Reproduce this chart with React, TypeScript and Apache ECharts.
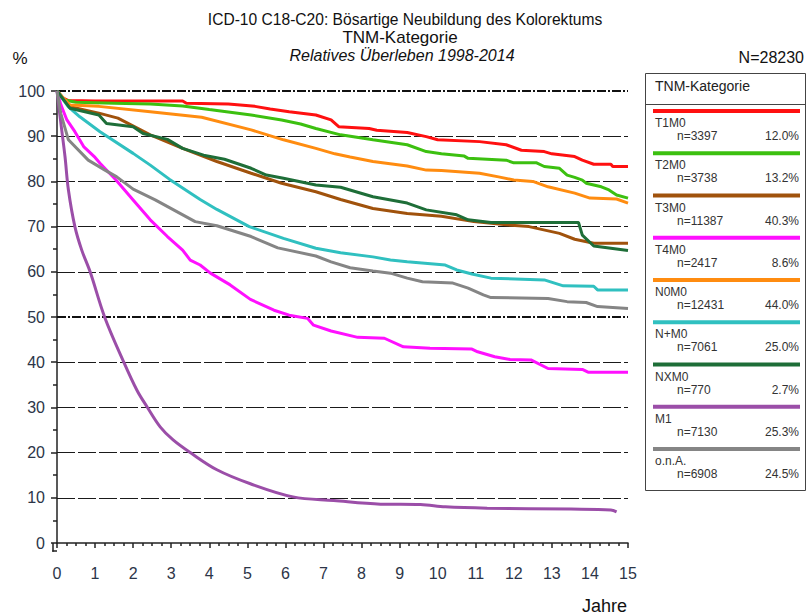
import React, { useEffect, useRef } from 'react';
import * as echarts from 'echarts';

const FONT = '"Liberation Sans", Arial, Helvetica, sans-serif';

// Relative survival (%) by years since diagnosis, one [year, percent] list per TNM group
const t1m0: number[][] = [
  [0, 100], [0.15, 98.5], [0.3, 97.9], [1, 97.8], [2, 97.8], [3.3, 97.8], [3.4, 97.3], [4.5, 97.1],
  [5.2, 96.6], [5.6, 96.0], [6.1, 95.4], [6.8, 94.7], [7.2, 93.6], [7.4, 92.1], [8.2, 91.7], [8.4, 91.3],
  [9.2, 90.8], [9.7, 89.9], [10, 89.2], [11.1, 88.8], [11.8, 88.1], [12.2, 86.9], [12.8, 86.6], [13, 86.1],
  [13.6, 85.5], [13.8, 84.7], [14.1, 83.8], [14.55, 83.8], [14.6, 83.3], [15, 83.3],
];
const t2m0: number[][] = [
  [0, 100], [0.2, 98], [0.5, 97.5], [1.5, 97.3], [2.45, 97.1], [3.3, 96.7], [4, 95.9], [5.1, 94.7],
  [5.9, 93.6], [6.4, 92.7], [6.8, 91.7], [7.45, 90.3], [8.3, 89.2], [9.2, 88.1], [9.7, 86.6], [10.1, 86.1],
  [10.7, 85.6], [10.8, 85.1], [11.8, 84.7], [12, 84.1], [12.6, 84.1], [12.8, 83.3], [13.2, 82.9], [13.4, 81.4],
  [13.6, 80.9], [13.8, 80.3], [13.9, 79.6], [14.3, 78.8], [14.5, 78.1], [14.7, 77.0], [15, 76.3],
];
const t3m0: number[][] = [
  [0, 100], [0.34, 96.5], [1.1, 95.1], [1.6, 94.0], [2.45, 90.3], [3.3, 87.3], [4.2, 84.4], [5.1, 81.8],
  [5.9, 79.6], [6.8, 77.7], [7.45, 76.0], [8.3, 74.0], [9.2, 72.9], [10.1, 72.3], [10.95, 71.1], [11.8, 70.4],
  [12.4, 70.0], [13.2, 68.5], [13.6, 67.2], [14.1, 66.3], [15, 66.3],
];
const t4m0: number[][] = [
  [0, 100], [0.1, 97], [0.26, 93.6], [0.47, 91.0], [0.7, 87.7], [1.0, 85.3], [1.13, 84.0], [1.55, 80.3],
  [2, 75.9], [2.45, 71.5], [2.9, 67.8], [3.3, 64.8], [3.5, 62.6], [3.76, 61.5], [4.03, 59.7], [4.55, 57.1],
  [5.08, 53.9], [5.7, 51.5], [6.1, 50.4], [6.58, 49.7], [6.74, 48.2], [7.2, 46.9], [7.9, 45.5], [8.6, 45.3],
  [9.1, 43.4], [9.8, 43.1], [10.9, 42.9], [11.05, 42.3], [11.5, 41.2], [11.9, 40.6], [12.45, 40.5],
  [12.9, 38.6], [13.8, 38.4], [13.95, 37.8], [15, 37.8],
];
const n0m0: number[][] = [
  [0, 100], [0.34, 96.9], [1.1, 96.6], [2.45, 95.4], [3.8, 94.2], [5.1, 91.4], [5.95, 89.2], [6.8, 87.3],
  [7.3, 86.1], [7.7, 85.4], [8.3, 84.4], [9.2, 83.4], [9.7, 82.5], [10.1, 82.4], [11.1, 81.8], [11.6, 81.0],
  [12, 80.3], [12.5, 80.0], [12.9, 78.8], [13.6, 77.4], [14, 76.3], [14.7, 76.1], [15, 75.2],
];
const nplusm0: number[][] = [
  [0, 100], [0.3, 96.5], [0.6, 94.3], [1.13, 91.0], [2, 86.2], [2.45, 83.6], [2.95, 80.5], [3.76, 76.0],
  [4.2, 73.8], [5.05, 70.0], [5.95, 67.4], [6.8, 65.2], [7.45, 64.2], [8.3, 63.3], [8.76, 62.6], [9.2, 62.2],
  [10.2, 61.5], [10.5, 60.4], [10.9, 59.5], [11.4, 58.6], [12.8, 58.2], [13.3, 56.9], [14.1, 56.8],
  [14.2, 56.0], [15, 56.0],
];
const nxm0: number[][] = [
  [0, 100], [0.34, 96.2], [1.1, 94.7], [1.3, 92.8], [2, 92.1], [2.26, 90.6], [2.9, 89.3], [3.3, 87.3],
  [3.85, 85.8], [4.4, 84.9], [5.1, 82.9], [5.5, 81.4], [5.95, 80.7], [6.8, 79.2], [7.45, 78.7], [8.3, 76.6],
  [9.2, 75.2], [9.7, 73.7], [10.5, 72.6], [10.8, 71.5], [11.4, 70.9], [13.7, 70.9], [13.8, 68.1],
  [14.1, 65.7], [15, 64.7],
];
const m1: number[][] = [
  [0, 100], [0.1, 93], [0.21, 85.5], [0.3, 78.1], [0.47, 70.0], [0.65, 64.8], [0.87, 60.0], [1.26, 49.8],
  [1.75, 40.1], [2.1, 33.8], [2.36, 30.2], [2.71, 25.7], [3.05, 22.8], [3.5, 20.0], [4.2, 16.2],
  [5.08, 13.1], [6.2, 10.2], [7.27, 9.4], [8.5, 8.6], [9.55, 8.5], [10.2, 8.0], [11.3, 7.7], [13.5, 7.5],
  [14.55, 7.3], [14.7, 6.9],
];
const ona: number[][] = [
  [0, 100], [0.1, 95], [0.3, 89.2], [0.82, 84.7], [1.26, 82.5], [1.57, 81.0], [2, 78.3], [2.58, 75.9],
  [3.63, 71.1], [4.2, 70.2], [5.1, 67.8], [5.8, 65.3], [6.8, 63.5], [7.2, 62.2], [7.7, 60.9], [8.3, 60.2],
  [8.76, 59.7], [9.2, 58.6], [9.6, 57.8], [10.4, 57.5], [10.8, 56.4], [11.2, 54.9], [11.4, 54.3],
  [12.9, 54.1], [13.4, 53.4], [13.9, 53.2], [14.2, 52.3], [15, 51.9],
];

const categories = ['T1M0', 'T2M0', 'T3M0', 'T4M0', 'N0M0', 'N+M0', 'NXM0', 'M1', 'o.n.A.'];
const counts = [3397, 3738, 11387, 2417, 12431, 7061, 770, 7130, 6908];
const shares = ['12.0%', '13.2%', '40.3%', '8.6%', '44.0%', '25.0%', '2.7%', '25.3%', '24.5%'];
const curves = [t1m0, t2m0, t3m0, t4m0, n0m0, nplusm0, nxm0, m1, ona];
const colors = ['#ff1010', '#3cc010', '#a0520c', '#ff10ff', '#ff8c10', '#30c0c0', '#1e6e38', '#9b4ea8', '#858585'];
const smoothCurve = [false, false, false, false, false, false, false, true, false];

const totalN = 28230;
const titleLines = ['ICD-10 C18-C20: Bösartige Neubildung des Kolorektums', 'TNM-Kategorie', 'Relatives Überleben 1998-2014'];
const legendTitle = 'TNM-Kategorie';
const dashedGrid = [10, 20, 30, 40, 60, 70, 80, 90];
const dashDotGrid = [50, 100];

const TEXT = '#2c3548';
const AXIS = '#222';

function buildGraphic() {
  const els: any[] = [];
  els.push(
    { type: 'text', x: 405, y: 19, style: { text: titleLines[0], font: `15.6px ${FONT}`, fill: '#111', align: 'center', verticalAlign: 'middle' } },
    { type: 'text', x: 400, y: 37, style: { text: titleLines[1], font: `17px ${FONT}`, fill: '#111', align: 'center', verticalAlign: 'middle' } },
    { type: 'text', x: 402, y: 55, style: { text: titleLines[2], font: `italic 16px ${FONT}`, fill: '#111', align: 'center', verticalAlign: 'middle' } },
    { type: 'text', x: 20, y: 58, style: { text: '%', font: `17px ${FONT}`, fill: '#111', align: 'center', verticalAlign: 'middle' } },
    { type: 'text', x: 804, y: 57, style: { text: `N=${totalN}`, font: `16px ${FONT}`, fill: '#111', align: 'right', verticalAlign: 'middle' } },
    { type: 'text', x: 627, y: 606, style: { text: 'Jahre', font: `18px ${FONT}`, fill: '#111', align: 'right', verticalAlign: 'middle' } },
    // close the corner where the two offset axis lines meet
    { type: 'line', shape: { x1: 53, y1: 543, x2: 53, y2: 551.75 }, style: { stroke: AXIS, lineWidth: 1.5 } },
    { type: 'line', shape: { x1: 52.25, y1: 551, x2: 57, y2: 551 }, style: { stroke: AXIS, lineWidth: 1.5 } },
  );
  // legend panel
  els.push(
    { type: 'rect', shape: { x: 645.5, y: 73.5, width: 160, height: 417 }, style: { fill: '#fff', stroke: '#444', lineWidth: 1 }, z: 10 },
    { type: 'line', shape: { x1: 646, y1: 104.5, x2: 806, y2: 104.5 }, style: { stroke: '#444', lineWidth: 1 }, z: 11 },
    { type: 'text', x: 655, y: 86, style: { text: legendTitle, font: `14px ${FONT}`, fill: '#222', align: 'left', verticalAlign: 'middle' }, z: 11 },
  );
  categories.forEach((name, i) => {
    const top = 111 + i * 42.25;
    els.push(
      { type: 'rect', shape: { x: 653, y: top - 2, width: 147, height: 4 }, style: { fill: colors[i] }, z: 11 },
      { type: 'text', x: 655, y: top + 12, style: { text: name, font: `12px ${FONT}`, fill: '#333', align: 'left', verticalAlign: 'middle' }, z: 11 },
      { type: 'text', x: 677, y: top + 25, style: { text: `n=${counts[i]}`, font: `12px ${FONT}`, fill: '#333', align: 'left', verticalAlign: 'middle' }, z: 11 },
      { type: 'text', x: 799, y: top + 25, style: { text: shares[i], font: `12px ${FONT}`, fill: '#333', align: 'right', verticalAlign: 'middle' }, z: 11 },
    );
  });
  return els;
}

export default function App() {
  const ref = useRef<HTMLDivElement>(null);

  useEffect(() => {
    if (!ref.current) return;
    const chart = echarts.init(ref.current, undefined, { renderer: 'svg' });

    const gridLines = [
      ...dashedGrid.map((v) => ({ yAxis: v, lineStyle: { type: [18, 3], color: '#1a1a1a', width: 1 } })),
      ...dashDotGrid.map((v) => ({ yAxis: v, lineStyle: { type: [9, 2, 2, 2], color: '#111', width: 2 } })),
    ];

    chart.setOption({
      animation: false,
      backgroundColor: '#fff',
      grid: { left: 57, top: 91, right: 180, bottom: 73 },
      xAxis: {
        type: 'value',
        min: 0,
        max: 15,
        interval: 1,
        offset: 8,
        axisLine: { show: true, lineStyle: { color: AXIS, width: 1.5 } },
        axisTick: { show: true, length: 5, lineStyle: { color: AXIS, width: 1.5 } },
        minorTick: { show: true, splitNumber: 4, length: 3, lineStyle: { color: AXIS, width: 1.5 } },
        splitLine: { show: false },
        axisLabel: { color: TEXT, fontFamily: FONT, fontSize: 16, margin: 14 },
      },
      yAxis: {
        type: 'value',
        min: 0,
        max: 100,
        interval: 10,
        offset: 4,
        axisLine: { show: true, lineStyle: { color: AXIS, width: 1.5 } },
        axisTick: { show: true, length: 6, lineStyle: { color: AXIS, width: 1.5 } },
        minorTick: { show: true, splitNumber: 2, length: 4, lineStyle: { color: AXIS, width: 1.5 } },
        splitLine: { show: false },
        axisLabel: { color: TEXT, fontFamily: FONT, fontSize: 16, margin: 8 },
      },
      series: [
        {
          type: 'line',
          data: [],
          silent: true,
          z: 1,
          markLine: {
            silent: true,
            z: 1,
            symbol: ['none', 'none'],
            label: { show: false },
            emphasis: { disabled: true },
            data: gridLines,
          },
        },
        ...curves.map((data, i) => ({
          name: categories[i],
          type: 'line',
          data,
          z: 3 + i,
          smooth: smoothCurve[i] ? 0.35 : false,
          showSymbol: false,
          symbol: 'none',
          lineStyle: { color: colors[i], width: 3 },
          itemStyle: { color: colors[i] },
        })),
      ],
      graphic: buildGraphic(),
    });

    return () => chart.dispose();
  }, []);

  return <div ref={ref} style={{ position: 'absolute', left: 0, top: 0, width: 808, height: 616 }} />;
}
